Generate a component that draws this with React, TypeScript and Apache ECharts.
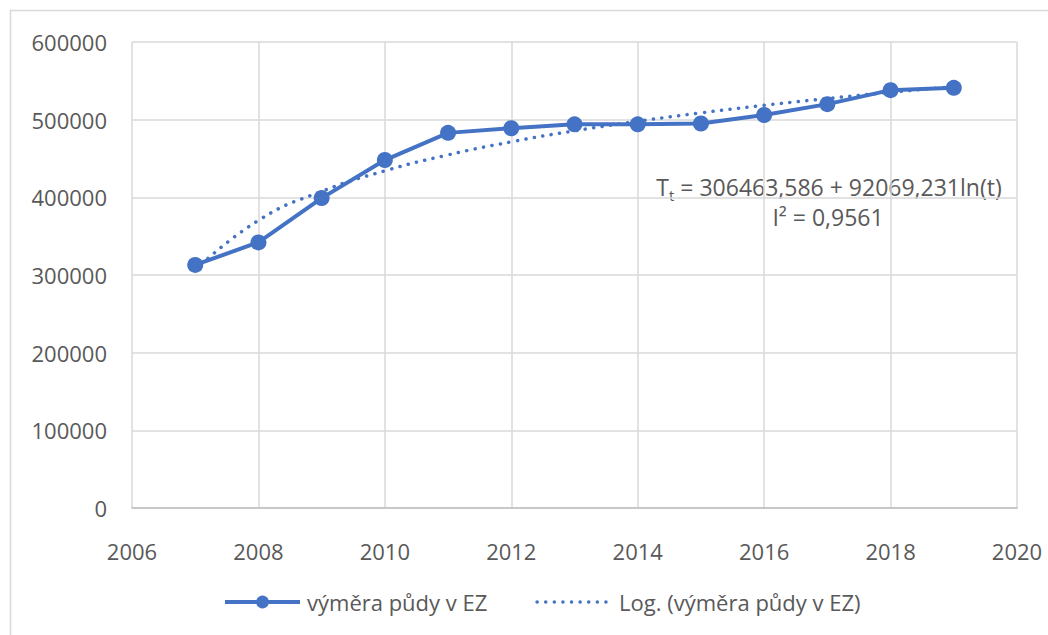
import React, { useEffect, useRef } from "react";
import * as echarts from "echarts";

const years = [2007, 2008, 2009, 2010, 2011, 2012, 2013, 2014, 2015, 2016, 2017, 2018, 2019];
const area = [313000, 342000, 399000, 448000, 483000, 489000, 494000, 494000, 495000, 506000, 520000, 538000, 541000];
const trend = [306464, 370281, 407611, 434099, 454644, 471430, 485620, 497914, 508757, 518458, 527233, 535244, 542614];
const seriesName = "výměra půdy v EZ";
const trendName = "Log. (výměra půdy v EZ)";
const eqMain = " = 306463,586 + 92069,231ln(t)";
const eqR2 = "I² = 0,9561";

const FONT = "'Open Sans', 'Noto Sans', sans-serif";
const TXT = "#595959";
const BLUE = "#4472C4";
const DOTS = [0.1, 8.5];

export default function App() {
  const ref = useRef<HTMLDivElement>(null);
  useEffect(() => {
    if (!ref.current) return;
    const chart = echarts.init(ref.current, null, { renderer: "svg" });
    chart.setOption({
      animation: false,
      backgroundColor: "#ffffff",
      textStyle: { fontFamily: FONT },
      grid: { left: 132, top: 42, right: 31, bottom: 127, containLabel: false },
      xAxis: {
        type: "value",
        min: 2006,
        max: 2020,
        interval: 2,
        axisLine: { show: true, lineStyle: { color: "#bfbfbf", width: 1.5 } },
        axisTick: { show: false },
        splitLine: { show: true, lineStyle: { color: "#d9d9d9", width: 1.5 } },
        axisLabel: { color: TXT, fontSize: 22, fontFamily: FONT, margin: 32, formatter: (v: number) => String(v) },
      },
      yAxis: {
        type: "value",
        min: 0,
        max: 600000,
        interval: 100000,
        axisLine: { show: false },
        axisTick: { show: false },
        splitLine: { show: true, lineStyle: { color: "#d9d9d9", width: 1.5 } },
        axisLabel: { color: TXT, fontSize: 22, fontFamily: FONT, margin: 25, formatter: (v: number) => String(v) },
      },
      legend: {
        top: 586,
        left: 218,
        itemWidth: 75,
        itemHeight: 16,
        itemGap: 48,
        textStyle: { color: TXT, fontSize: 22, fontFamily: FONT, padding: [0, 0, 0, 2] },
        data: [
          { name: seriesName, lineStyle: { width: 4, color: BLUE } },
          {
            name: trendName,
            itemStyle: { opacity: 0 },
            lineStyle: { width: 3.5, color: BLUE, type: DOTS, cap: "round" },
          },
        ],
      },
      series: [
        {
          name: seriesName,
          type: "line",
          data: years.map((y, i) => [y, area[i]]),
          symbol: "circle",
          symbolSize: 16,
          lineStyle: { color: BLUE, width: 4 },
          itemStyle: { color: BLUE },
          z: 3,
        },
        {
          name: trendName,
          type: "line",
          data: years.map((y, i) => [y, trend[i]]),
          symbol: "none",
          smooth: 0.5,
          lineStyle: { color: BLUE, width: 3.5, type: DOTS, cap: "round" },
          itemStyle: { color: BLUE },
          z: 2,
        },
      ],
      graphic: [
        {
          type: "rect",
          shape: { x: 10.5, y: 10.5, width: 1060, height: 660 },
          style: { fill: "none", stroke: "#d9d9d9", lineWidth: 1.5 },
          silent: true,
        },
        {
          type: "text",
          x: 829,
          y: 187,
          style: {
            text: "{a|T}{s|t}{a|" + eqMain + "}",
            align: "center",
            verticalAlign: "middle",
            rich: {
              a: { fontSize: 23, fill: TXT, fontFamily: FONT },
              s: { fontSize: 15, fill: TXT, fontFamily: FONT, padding: [16, 0, 0, 0] },
            },
          },
        },
        {
          type: "text",
          x: 828,
          y: 217,
          style: {
            text: eqR2,
            align: "center",
            verticalAlign: "middle",
            fontSize: 23,
            fill: TXT,
            fontFamily: FONT,
          },
        },
      ],
    });
    return () => chart.dispose();
  }, []);
  return (
    <div
      ref={ref}
      style={{ position: "fixed", left: 0, top: 0, width: 1048, height: 635 }}
    />
  );
}
